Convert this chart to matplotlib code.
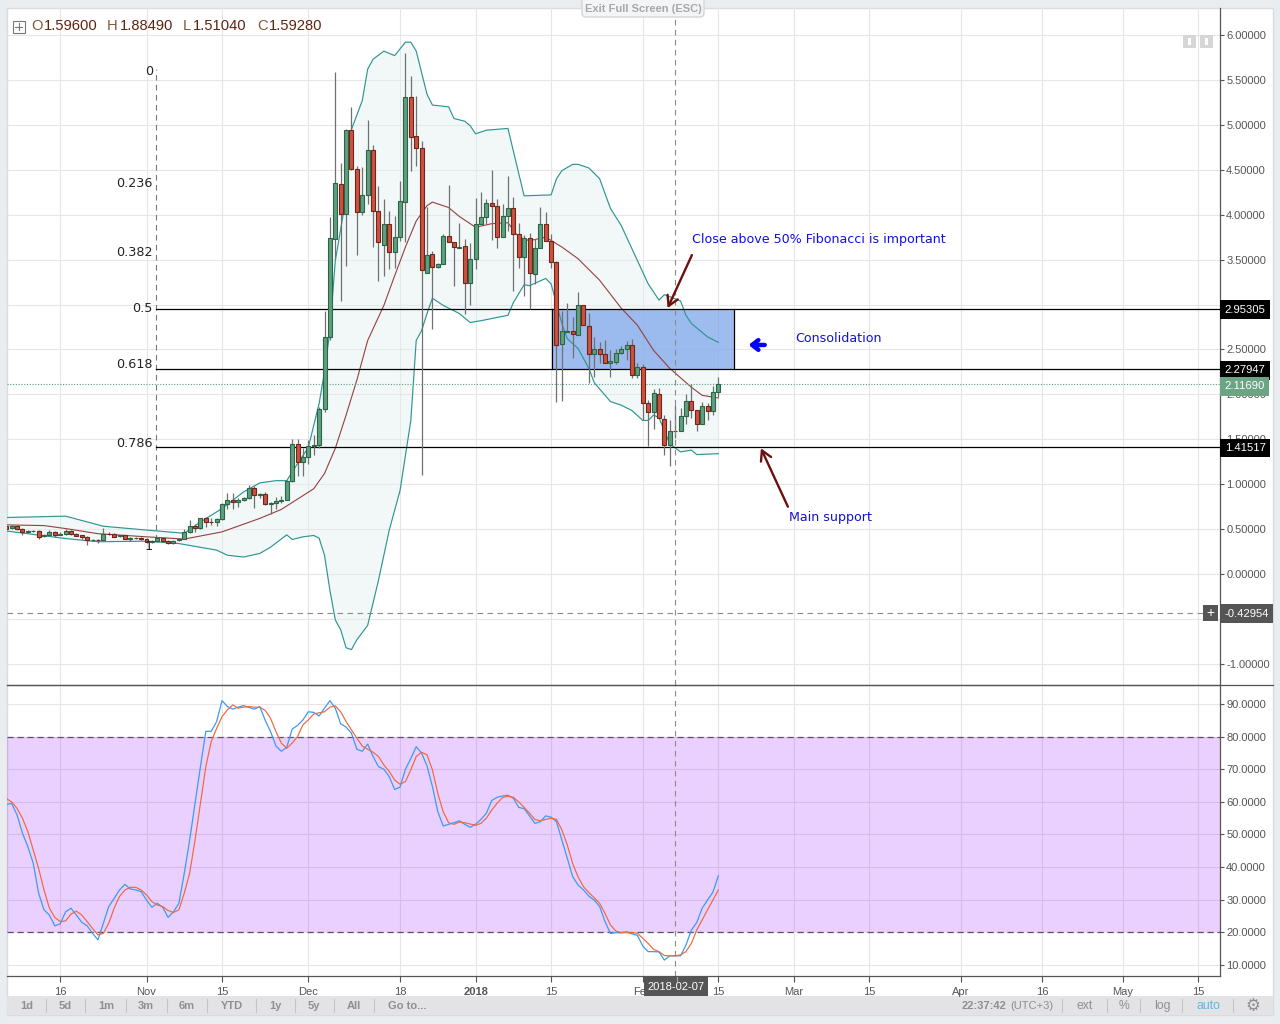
# -*- coding: utf-8 -*-
import numpy as np
import matplotlib
matplotlib.use('Agg')
import matplotlib.pyplot as plt
from matplotlib.patches import Rectangle, FancyBboxPatch

#%% Data (days counted from 2017-11-01)

days = list(range(-26, 107))

opens = [.54,.51,.54,.50,.47,.48,.485,.42,.44,.465,.44,.45,.475,.45,.43,.41,.385,.385,.385,.45,.445,.42,.43,.395,.40,.40,
         .395,.36,.365,.40,.37,.35,.38,.39,.47,.54,.51,.625,.585,.585,.61,.785,.83,.80,.82,.85,.96,.885,.89,.785,.79,.81,
         .83,1.04,1.45,1.25,1.30,1.43,1.44,1.84,2.64,3.73,4.34,4.01,4.94,4.51,4.03,4.22,4.72,4.04,3.66,3.90,3.58,3.75,
         4.14,5.31,4.87,4.74,3.35,3.56,3.42,3.45,3.76,3.70,3.63,3.65,3.24,3.51,3.90,3.97,4.13,4.10,3.75,3.98,4.07,3.79,
         3.53,3.74,3.34,3.63,3.90,3.71,3.47,2.56,2.69,2.71,2.66,2.99,2.76,2.45,2.51,2.45,2.35,2.36,2.46,2.50,2.55,2.22,
         2.30,1.90,1.80,2.00,1.73,1.44,1.596,1.59,1.76,1.93,1.83,1.67,1.87,1.82,2.03]
highs = [.55,.55,.55,.51,.49,.49,.49,.45,.49,.48,.47,.50,.49,.46,.44,.42,.39,.39,.51,.47,.46,.44,.44,.41,.41,.41,
         .40,.38,.41,.41,.38,.38,.40,.50,.60,.56,.63,.64,.63,.63,.79,.90,.90,.85,.86,.99,.98,.90,.91,.80,.86,.87,
         1.05,1.50,1.50,1.40,1.49,1.55,1.86,2.93,3.97,5.59,4.58,4.95,5.20,4.54,4.53,5.05,4.78,4.32,4.18,4.04,3.98,4.38,
         5.80,5.54,5.32,4.82,4.08,3.60,3.46,3.78,4.33,3.70,3.91,3.73,3.69,4.19,4.25,4.17,4.50,4.18,4.12,4.43,4.20,3.91,
         3.77,3.80,3.73,4.08,4.03,3.78,3.48,2.93,3.02,2.86,3.14,2.99,2.91,2.64,2.58,2.60,2.49,2.51,2.54,2.59,2.62,2.35,
         2.34,1.94,2.06,2.07,1.77,1.72,1.8849,1.85,2.00,2.12,1.83,1.91,1.90,2.09,2.19]
lows = [.49,.50,.49,.43,.46,.47,.39,.41,.44,.41,.43,.44,.44,.42,.39,.32,.38,.35,.38,.44,.41,.41,.39,.37,.39,.385,
        .35,.35,.36,.36,.34,.34,.37,.39,.46,.47,.50,.52,.55,.53,.60,.73,.73,.75,.81,.84,.74,.85,.77,.67,.72,.79,
        .82,1.03,1.09,1.09,1.225,1.33,1.40,1.80,2.60,3.51,3.04,3.43,4.50,3.55,4.00,4.12,3.64,3.26,3.32,3.40,3.41,3.71,
        3.70,4.49,4.54,1.10,3.35,2.73,3.41,3.45,3.70,3.21,3.63,2.90,3.00,3.40,3.90,3.90,3.72,3.63,3.75,3.82,3.15,3.41,
        3.10,2.95,3.23,3.63,3.71,3.41,1.92,1.93,2.69,2.40,2.66,2.77,2.13,2.19,2.35,2.35,2.19,2.34,2.45,2.38,2.18,2.18,
        1.72,1.43,1.62,1.74,1.33,1.20,1.5104,1.59,1.67,1.74,1.59,1.67,1.72,1.77,1.97]
closes = [.50,.54,.50,.47,.48,.485,.415,.44,.465,.44,.45,.475,.45,.425,.41,.38,.385,.38,.45,.445,.415,.43,.395,.40,.40,.39,
          .36,.365,.40,.37,.35,.37,.39,.47,.54,.51,.625,.58,.58,.61,.785,.83,.80,.82,.85,.96,.885,.89,.785,.79,.81,.83,
          1.04,1.45,1.25,1.30,1.43,1.44,1.84,2.64,3.74,4.35,4.01,4.94,4.51,4.03,4.22,4.72,4.04,3.70,3.90,3.58,3.75,4.15,
          5.31,4.86,4.74,3.38,3.55,3.42,3.45,3.76,3.70,3.64,3.64,3.24,3.51,3.90,3.97,4.13,4.10,3.75,3.98,4.07,3.79,3.53,
          3.74,3.35,3.63,3.90,3.71,3.47,2.555,2.70,2.70,2.67,2.99,2.77,2.45,2.51,2.45,2.35,2.37,2.46,2.50,2.55,2.22,2.30,
          1.90,1.80,2.01,1.74,1.44,1.59,1.5928,1.76,1.93,1.83,1.67,1.87,1.82,2.03,2.1169]

upper_days = [-26,-15,-8,0,7,10,14,18,21,24,26,28,30,32,33,34,35,37,38,40,41,42,44,46,48,49,50,52,53,56,57,59,60,61,63,67,70,75,76,77,79,80,82,84,86,88,91,93,95,96,99,100,101,104,106]
upper_vals = [.63,.645,.533,.49,.455,.58,.73,.915,1.015,1.04,1.04,1.23,1.41,1.9,2.25,2.71,3.49,4.19,4.95,5.27,5.62,5.73,5.82,5.77,5.92,5.92,5.82,5.34,5.22,5.20,5.07,5.04,4.99,4.90,4.94,4.96,4.21,4.22,4.40,4.49,4.56,4.56,4.52,4.40,4.07,3.88,3.49,3.23,3.05,3.11,3.04,2.88,2.79,2.64,2.58]

lower_days = [-26,-15,-9,0,6,13,15,18,21,23,26,27,29,31,32,33,34,35,36,37,38,39,41,43,45,47,49,50,51,52,53,55,58,60,62,67,68,70,71,74,75,77,78,80,82,83,86,88,90,92,93,94,95,97,99,101,102,106]
lower_vals = [.48,.396,.36,.367,.34,.267,.21,.19,.23,.30,.437,.385,.415,.43,.40,.21,-.18,-.51,-.62,-.82,-.84,-.73,-.57,-.07,.49,.93,1.71,2.6,2.71,2.9,3.07,2.99,2.9,2.8,2.82,2.88,3.02,3.22,3.21,3.29,3.23,2.79,2.62,2.51,2.29,2.13,1.92,1.88,1.82,1.71,1.71,1.77,1.74,1.45,1.36,1.38,1.33,1.34]

ma_days = [-26,-19,-15,-9,0,7,14,21,25,31,33,35,37,39,41,42,44,46,48,50,52,53,56,58,61,64,67,69,71,74,77,80,84,88,91,94,97,101,103,106]
ma_vals = [.548,.54,.507,.45,.415,.39,.47,.62,.72,.95,1.12,1.40,1.77,2.16,2.6,2.73,2.99,3.32,3.64,3.93,4.10,4.14,4.08,3.98,3.86,3.90,3.91,3.75,3.71,3.75,3.64,3.51,3.27,2.96,2.77,2.49,2.29,2.08,1.99,1.96]

stoch_k = [59.2,59.5,56,50.4,46.3,41.2,32,26.9,25.3,22,22.6,26.3,27.4,25.3,23.1,22,19.7,17.7,22.8,27.9,30.4,33,34.7,33.3,33,32.5,
           29.9,27.7,28.9,27.7,24.6,26.3,28.9,38.1,48.3,59.6,70.8,81.6,81.6,84.6,91,89.2,88.4,89,89.5,88.9,88.4,89.2,85,81.5,77.1,75.5,
           76.7,82.3,83.4,85.1,87.6,87.4,86.3,88.7,91,88.7,83.9,82.9,81,76.1,75.5,77.7,73.9,70.8,70,67.7,63.8,64.5,
           70,73.3,76.9,74.9,71,64.7,57,52.6,53.1,53.6,54.2,53.1,52.2,53.1,54.6,56.5,60.4,61.4,61.8,62,61.1,58.3,
           57.9,55.7,53.4,53.9,55.7,55.3,53.9,48.3,42.7,37.1,34.5,33,31.1,29.9,27.9,23.3,19.7,19.9,19.9,20.2,19.5,19.1,
           15.8,14.1,14.1,14,11.5,12.8,12.8,12.8,16.1,20.7,23,27.4,29.9,32.3,37.3]
stoch_d = [61,60,58,55,50.9,45.3,39.6,33,27.4,24.6,23.3,23.5,25.6,26.5,25.3,23.3,21.2,19.2,19.7,22.8,27.4,31,33,33.8,33.8,33,
           31.5,29.4,28.4,27.9,26.7,26.1,26.9,32,38.1,48.3,59.6,70.8,78.5,82.5,86.1,88.2,89.7,88.7,89,89.2,89,89,88,85.6,81.5,78,
           76.4,78,80,83.6,85.1,86.9,87.3,87.6,89,89.4,87.6,84.6,82,79.5,77.1,76.1,75.2,73.9,71.3,69.3,66.7,65.4,
           66.2,69.8,73.9,75.2,74.4,69.8,62.6,57,53.6,53.1,53.8,53.6,53.2,52.8,53.4,55,57.5,59.6,61.3,61.7,61.4,60,
           58.3,56.5,54.6,54.2,54.6,55,54.6,51.4,46.8,41.1,37,34,32.2,30.6,28.9,25.8,22.3,20.4,19.9,19.9,19.9,19.7,
           18.2,16.6,14.8,14.1,12.9,12.8,12.8,13.1,14.1,16.6,20.7,23.8,26.9,29.9,33]

fib_levels = [2.95305, 2.27947, 1.41517]
fib_names = ['0', '0.236', '0.382', '0.5', '0.618', '0.786', '1']
fib_prices = [5.59, 4.345, 3.58, 2.96, 2.33, 1.45, .305]
last_price = 2.1169
cursor_price = -.42954
cursor_day = 98

price_ticks = [6, 5.5, 5, 4.5, 4, 3.5, 3, 2.5, 2, 1.5, 1, .5, 0, -.5, -1]
stoch_ticks = [90, 80, 70, 60, 50, 40, 30, 20, 10]
date_ticks = [-16, 0, 14, 30, 47, 61, 75, 92, 106, 120, 134, 151, 166, 181, 195]
date_labels = ['16', 'Nov', '15', 'Dec', '18', '2018', '15', 'Feb', '15', 'Mar', '15', 'Apr', '16', 'May', '15']

#%% Figure and panels

W, H = 1280, 1024
GRID = '#e6e6e6'
AXIS = '#555555'
TICK = '#555555'
BLUE = '#1212d8'
DARKRED = '#6b0f0f'

plt.rcParams['font.family'] = ['Liberation Sans', 'DejaVu Sans']
fig = plt.figure(figsize=(12.8, 10.24), dpi=100, facecolor='#e9edf0')


def px_axes(left, top, right, bottom, **kw):
    return fig.add_axes([left / W, 1 - bottom / H, (right - left) / W, (bottom - top) / H], **kw)


# chrome behind the panels
back = px_axes(0, 0, W, H, zorder=0)
back.set_xlim(0, W)
back.set_ylim(H, 0)
back.axis('off')
back.add_patch(Rectangle((7, 8), 1266, 1007, fc='white', ec='#d8dcdf', lw=1))
back.add_patch(Rectangle((7, 996), 1266, 19, fc='#e3e3e5', ec='none'))

ax = px_axes(7, 8, 1220, 685, zorder=1)
ax2 = px_axes(7, 685, 1220, 976, zorder=1)
x_left = -25.86
x_right = 199.0
for a in (ax, ax2):
    a.set_xlim(x_left, x_right)
    a.set_facecolor('none')
    a.grid(True, color=GRID, lw=.8)
    a.set_axisbelow(True)
    a.yaxis.tick_right()
    a.set_xticks(date_ticks)
    for s in ('top', 'left'):
        a.spines[s].set_visible(False)
    for s in ('bottom', 'right'):
        a.spines[s].set_color(AXIS)
        a.spines[s].set_linewidth(.9)
    a.tick_params(axis='y', length=3, width=.8, color=AXIS, labelcolor=TICK, labelsize=8, pad=1.5)

#%% Price panel

ax.set_ylim(-1.234, 6.30)
ax.set_yticks(price_ticks)
ax.set_yticklabels(['%.5f' % t for t in price_ticks])
ax.tick_params(axis='x', length=0, labelbottom=False)

# bollinger area and lines
poly_x = upper_days + lower_days[::-1]
poly_y = upper_vals + lower_vals[::-1]
ax.fill(poly_x, poly_y, color='#e3f0ee', alpha=.45, lw=0, zorder=1)
ax.plot(upper_days, upper_vals, color='#2f9591', lw=.85, zorder=3)
ax.plot(lower_days, lower_vals, color='#2f9591', lw=.85, zorder=3)
ax.plot(ma_days, ma_vals, color='#94403f', lw=.8, zorder=3)

# consolidation box
ax.add_patch(Rectangle((75.2, fib_levels[1]), 33.7, fib_levels[0] - fib_levels[1], fc='#7aa3ea', ec='none', alpha=.72, zorder=2))
ax.plot([75.2, 75.2], fib_levels[:2], color='black', lw=.9, zorder=4)
ax.plot([108.9, 108.9], fib_levels[:2], color='black', lw=.9, zorder=4)

# fib lines
for lev in fib_levels:
    ax.plot([1.76, x_right], [lev, lev], color='black', lw=.9, zorder=4)
ax.plot([1.76, 1.76], [.38, 5.62], color='#777777', lw=.8, dashes=(5, 4), zorder=2)
for name, p in zip(fib_names, fib_prices):
    ax.text(1.2, p, name, ha='right', va='center', fontsize=9.2, family='DejaVu Sans', color='#222222', zorder=6)

# candles
for d, o, h, l, c in zip(days, opens, highs, lows, closes):
    ax.plot([d, d], [l, h], color='#707070', lw=.9, zorder=5, solid_capstyle='butt')
up = [c >= o for o, c in zip(opens, closes)]
body_bottom = [min(o, c) for o, c in zip(opens, closes)]
body_height = [abs(c - o) for o, c in zip(opens, closes)]
ax.bar(days, body_height, bottom=body_bottom, width=.74, zorder=5.5, lw=.8,
       color=['#5f9f80' if u else '#cc5240' for u in up],
       edgecolor=['#2a6548' if u else '#70241a' for u in up])

# price and cursor lines
ax.axhline(last_price, color='#5d9d7d', lw=.8, ls=(0, (1, 1.5)), zorder=4)
ax.plot([x_left, 195.9], [cursor_price, cursor_price], color='#8a8a8a', lw=.8, dashes=(5, 4), zorder=4)
for a in (ax, ax2):
    a.axvline(cursor_day, color='#8a8a8a', lw=.8, dashes=(5, 4), zorder=6)

# notes
note = dict(fontsize=9.05, family='DejaVu Sans', color=BLUE, va='center', ha='left', zorder=7)
ax.text(101.1, 3.72, 'Close above 50% Fibonacci is important', **note)
ax.text(120.2, 2.62, 'Consolidation', **note)
ax.text(119.1, .63, 'Main support', **note)
ax.annotate('', xy=(96.6, 2.96), xytext=(101.1, 3.55), zorder=7,
            arrowprops=dict(arrowstyle='->,head_length=.7,head_width=.4', color=DARKRED, lw=1.7, shrinkA=0, shrinkB=0))
ax.annotate('', xy=(113.9, 1.40), xytext=(118.9, .75), zorder=7,
            arrowprops=dict(arrowstyle='->,head_length=.7,head_width=.4', color=DARKRED, lw=1.7, shrinkA=0, shrinkB=0))
ax.annotate('', xy=(111.6, 2.55), xytext=(114.6, 2.55), zorder=7,
            arrowprops=dict(arrowstyle='->,head_length=.45,head_width=.35', color='#0000ff', lw=3.2, shrinkA=0, shrinkB=0))

# labels on the price scale, the green one sits just under 2.27947 so they don't collide
trans = ax.get_yaxis_transform()
boxes = [(fib_levels[0], fib_levels[0], '#000000'), (fib_levels[1], fib_levels[1], '#000000'), (last_price, 2.10, '#6ba583'),
         (fib_levels[2], fib_levels[2], '#000000'), (cursor_price, cursor_price, '#555555')]
for p, label_y, col in boxes:
    ax.text(1.0038, label_y, '%.5f' % p, transform=trans, ha='left', va='center_baseline', fontsize=8.1, color='white',
            clip_on=False, zorder=8, bbox=dict(boxstyle='square,pad=.38', fc=col, ec='none'))

#%% Stochastic panel

ax2.set_ylim(6.63, 95.8)
ax2.set_yticks(stoch_ticks)
ax2.set_yticklabels(['%.4f' % t for t in stoch_ticks])
ax2.axhspan(20, 80, color='#9915ff', alpha=.2, lw=0, zorder=1)
ax2.axhline(80, color='#5d4e6a', lw=.9, dashes=(5, 3), zorder=2)
ax2.axhline(20, color='#5d4e6a', lw=.9, dashes=(5, 3), zorder=2)
ax2.plot(days, stoch_k, color='#3d9bf0', lw=.9, zorder=3)
ax2.plot(days, stoch_d, color='#f0673c', lw=.85, zorder=3)
ax2.set_xticklabels(date_labels)
ax2.tick_params(axis='x', length=4, width=.8, color=AXIS, labelcolor=TICK, labelsize=8, pad=4)
for lab in ax2.get_xticklabels():
    if lab.get_text() == '2018':
        lab.set_fontweight('bold')

#%% Chrome on top

top = px_axes(0, 0, W, H, zorder=5)
top.set_xlim(0, W)
top.set_ylim(H, 0)
top.axis('off')
top.patch.set_alpha(0)

# separator between panels
top.plot([7, 1273], [685, 685], color=AXIS, lw=.9)

# header
top.add_patch(Rectangle((12.5, 20.5), 12, 12, fc='white', ec='#777777', lw=.8))
top.plot([18.5, 18.5], [23, 30], color='#777777', lw=.8)
top.plot([15, 22], [26.5, 26.5], color='#777777', lw=.8)
for x, letter, val in [(31, 'O', '1.59600'), (107, 'H', '1.88490'), (183, 'L', '1.51040'), (257, 'C', '1.59280')]:
    top.text(x, 26.5, letter, fontsize=10.6, color='#7a5a3c', va='center', ha='left')
    dx = {'O': 13, 'H': 13, 'L': 10, 'C': 12}[letter]
    top.text(x + dx, 26.5, val, fontsize=10.6, color='#5e2412', va='center', ha='left')

# full screen button
top.add_patch(FancyBboxPatch((582, -6), 122, 23, boxstyle='round,pad=0,rounding_size=4', fc='#f4f5f6', ec='#d4d6d8', lw=1))
top.text(643, 8.5, 'Exit Full Screen (ESC)', fontsize=8, color='#a8a8a8', ha='center', va='center', fontweight='bold')

# small buttons top right
for x in (1183, 1200):
    top.add_patch(Rectangle((x, 35), 13, 13, fc='#d6d6d6', ec='none'))
    top.add_patch(Rectangle((x + 5, 38), 3, 7, fc='white', ec='none'))

# plus box next to cursor price
top.add_patch(Rectangle((1203, 605), 15, 16, fc='#555555', ec='none'))
top.text(1210.5, 612.5, '+', color='white', fontsize=10, ha='center', va='center')

# date box
top.add_patch(Rectangle((644, 977), 64, 19, fc='#555555', ec='none'))
top.text(676, 986.5, '2018-02-07', color='white', fontsize=8, ha='center', va='center')
top.plot([676.5, 676.5], [977, 981], color='#aaaaaa', lw=.8)

# toolbar
for label, x in [('1d', 27), ('5d', 65), ('1m', 106), ('3m', 146), ('6m', 187), ('YTD', 232), ('1y', 275), ('5y', 314), ('All', 354), ('Go to...', 407)]:
    top.text(x, 1006, label, fontsize=8, color='#8f8f8f', ha='center', va='center', fontweight='bold')
for x in [45.7, 84.5, 125.7, 166.5, 207.3, 256, 294.7, 333.5, 373.5, 1062.4, 1106.5, 1140.4, 1182.4, 1232.7]:
    top.plot([x, x], [999, 1012], color='#c4c4c6', lw=.8)
top.text(1006, 1006, '22:37:42', fontsize=8, color='#8f8f8f', ha='right', va='center', fontweight='bold')
top.text(1010, 1006, '(UTC+3)', fontsize=8, color='#8f8f8f', ha='left', va='center')
top.text(1085, 1006, 'ext', fontsize=8.8, color='#8f8f8f', ha='center', va='center')
top.text(1124, 1006, '%', fontsize=8.8, color='#8f8f8f', ha='center', va='center')
top.text(1162, 1006, 'log', fontsize=8.8, color='#8f8f8f', ha='center', va='center')
top.text(1208, 1006, 'auto', fontsize=8.8, color='#5cb6e4', ha='center', va='center')
top.text(1253, 1006, '\u2699', fontsize=12, color='#8f8f8f', ha='center', va='center', family='DejaVu Sans')

fig.savefig('out.png', dpi=100)
